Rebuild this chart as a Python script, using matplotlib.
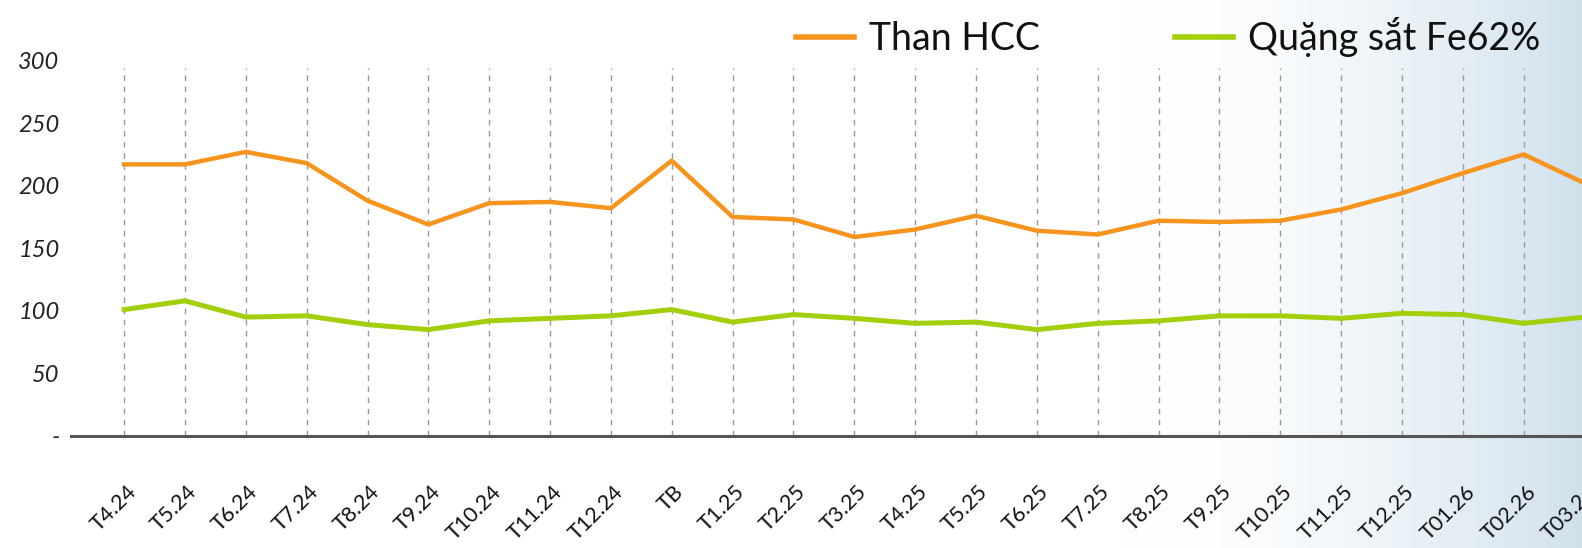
import numpy as np
import matplotlib
matplotlib.use("Agg")
import matplotlib.pyplot as plt
from matplotlib.transforms import ScaledTranslation

categories = ["T4.24", "T5.24", "T6.24", "T7.24", "T8.24", "T9.24", "T10.24", "T11.24",
              "T12.24", "TB", "T1.25", "T2.25", "T3.25", "T4.25", "T5.25", "T6.25",
              "T7.25", "T8.25", "T9.25", "T10.25", "T11.25", "T12.25", "T01.26",
              "T02.26", "T03.26"]
than_hcc = [217, 217, 227, 218, 188, 169, 186, 187, 182, 220, 175, 173, 159, 165,
            176, 164, 161, 172, 171, 172, 181, 194, 210, 225, 202]
quang_sat = [101, 108, 95, 96, 89, 85, 92, 94, 96, 101, 91, 97, 94, 90, 91, 85,
             90, 92, 96, 96, 94, 98, 97, 90, 95]
yticks = [0, 50, 100, 150, 200, 250, 300]
ytick_labels = ["-", "50", "100", "150", "200", "250", "300"]
series_names = ["Than HCC", "Quặng sắt Fe62%"]

ORANGE = "#F7941D"
GREEN = "#A3CF0A"

W, H = 1582, 548
fig = plt.figure(figsize=(W / 100, H / 100), dpi=100)

# background gradient
bg = fig.add_axes([0, 0, 1, 1], zorder=0)
xs = np.linspace(0, 1, 800)
t = np.clip((xs - 0.71) / 0.29, 0, 1) ** 1.8
c0 = np.array([1.0, 1.0, 1.0])
c1 = np.array([208, 225, 236]) / 255
img = c0[None, :] * (1 - t[:, None]) + c1[None, :] * t[:, None]
bg.imshow(img[None, :, :], aspect="auto", extent=[0, 1, 0, 1])
bg.set_axis_off()

left_px = 70.6
x0_px = 124.1
step_px = 60.85
xmin = -(x0_px - left_px) / step_px
xmax = 24.13
ax_w_px = (xmax - xmin) * step_px
y0_px = 436.0   # value 0 (from top)
y300_px = 60.5  # value 300
ax = fig.add_axes([left_px / W, 1 - y0_px / H, ax_w_px / W, (y0_px - y300_px) / H], zorder=1)
ax.patch.set_alpha(0)

x = np.arange(len(categories))
for xi in x:
    ax.plot([xi, xi], [0, 294], color="#9a9a9a", lw=1.0, ls=(0, (4, 4)), zorder=1)

ax.plot(x, than_hcc, color=ORANGE, lw=3.2, label=series_names[0], zorder=3)
ax.plot(x, quang_sat, color=GREEN, lw=3.6, label=series_names[1], zorder=3)

ax.set_xlim(xmin, xmax)
ax.set_ylim(0, 300)
for s in ["top", "right", "left"]:
    ax.spines[s].set_visible(False)
ax.spines["bottom"].set_color("#555555")
ax.spines["bottom"].set_linewidth(2.2)
ax.spines["bottom"].set_zorder(4)

ax.set_yticks(yticks)
ax.set_yticklabels(ytick_labels, fontfamily="Lato", fontstyle="italic",
                   fontsize=17, color="#222222")
ax.tick_params(axis="y", length=0, pad=8)

ax.set_xticks(x)
ax.set_xticklabels(categories, rotation=45, ha="right", va="center", rotation_mode="anchor",
                   fontfamily="Lato", fontsize=15.5, color="#111111")
ax.tick_params(axis="x", length=0, pad=38)
for lab in ax.get_xticklabels():
    lab.set_transform(lab.get_transform() + ScaledTranslation(0.09, 0, fig.dpi_scale_trans))

leg = fig.legend(loc="upper right", bbox_to_anchor=(1540 / W, 1 - 17 / H), ncol=2, frameon=False,
                 prop={"family": "Lato", "size": 27}, handlelength=1.55, handletextpad=0.4,
                 columnspacing=3.6, borderpad=0, borderaxespad=0)
for line in leg.get_lines():
    line.set_linewidth(4)
for txt in leg.get_texts():
    txt.set_color("#111111")

fig.savefig("out.png", dpi=100)
